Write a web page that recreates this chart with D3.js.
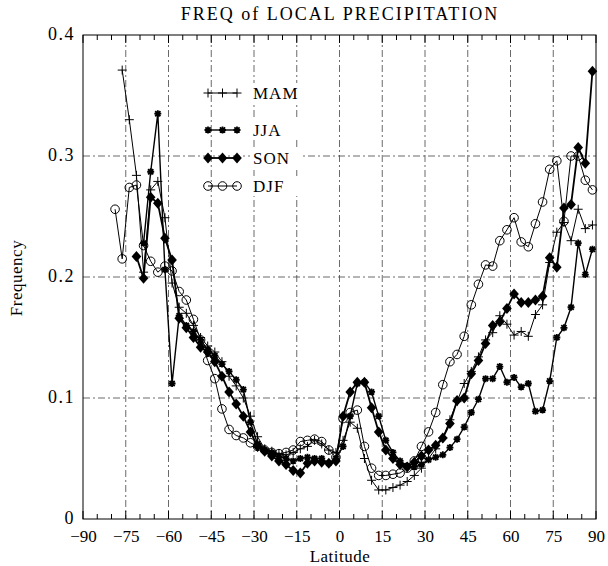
<!DOCTYPE html>
<html>
<head>
<meta charset="utf-8">
<script src="https://cdn.jsdelivr.net/npm/d3@7"></script>
<style>
  body { margin: 0; background: #fff; }
  text { font-family: "Liberation Serif", "DejaVu Serif", serif; fill: #000; }
</style>
</head>
<body>
<svg width="608" height="566"></svg>
<script>
// latitude bands (2.5 deg grid)
const lats = [-78.75, -76.25, -73.75, -71.25, -68.75, -66.25, -63.75, -61.25, -58.75, -56.25,
  -53.75, -51.25, -48.75, -46.25, -43.75, -41.25, -38.75, -36.25, -33.75, -31.25,
  -28.75, -26.25, -23.75, -21.25, -18.75, -16.25, -13.75, -11.25, -8.75, -6.25,
  -3.75, -1.25, 1.25, 3.75, 6.25, 8.75, 11.25, 13.75, 16.25, 18.75,
  21.25, 23.75, 26.25, 28.75, 31.25, 33.75, 36.25, 38.75, 41.25, 43.75,
  46.25, 48.75, 51.25, 53.75, 56.25, 58.75, 61.25, 63.75, 66.25, 68.75,
  71.25, 73.75, 76.25, 78.75, 81.25, 83.75, 86.25, 88.75]

const mam = [null, .371, .330, .284, .204, .272, .279, .249, .195, .175,
  .170, .160, .150, .143, .138, .130, .118, .110, .100, .085,
  .068, .058, .056, .054, .053, .055, .058, .060, .065, .062,
  .057, .055, .065, .080, .075, .050, .032, .024, .024, .026,
  .028, .031, .036, .042, .050, .058, .067, .082, .097, .112,
  .122, .134, .148, .154, .168, .161, .152, .155, .151, .169,
  .177, .212, .237, .245, .230, .256, .240, .243]

const jja = [null, null, null, null, .228, .287, .335, .206, .112, .168,
  .160, .155, .148, .140, .135, .128, .122, .115, .107, .080,
  .062, .057, .055, .052, .050, .048, .050, .051, .050, .050,
  .046, .050, .060, .085, .112, .113, .105, .085, .065, .055,
  .048, .044, .043, .045, .049, .051, .053, .059, .066, .076,
  .088, .099, .116, .116, .126, .113, .117, .109, .112, .089,
  .090, .114, .150, .158, .175, .228, .202, .223]

const son = [null, null, null, .217, .199, .266, .261, .232, .214, .166,
  .158, .150, .142, .138, .130, .118, .105, .095, .085, .072,
  .060, .056, .052, .048, .045, .040, .038, .046, .048, .047,
  .046, .048, .085, .105, .113, .113, .092, .072, .057, .050,
  .045, .043, .047, .052, .057, .061, .067, .079, .098, .100,
  .120, .131, .145, .160, .163, .174, .186, .179, .179, .181,
  .184, .216, .208, .257, .260, .307, .294, .370]

const djf = [.256, .215, .274, .276, .226, .213, .204, .209, .205, .188,
  .181, .165, .148, .131, .116, .091, .074, .069, .067, .063,
  .060, .057, .055, .054, .055, .057, .064, .065, .066, .064,
  .057, .051, .083, .088, .090, .060, .042, .036, .036, .037,
  .038, .042, .048, .060, .072, .088, .111, .130, .136, .151,
  .177, .194, .210, .209, .230, .239, .249, .229, .225, .244,
  .262, .289, .296, .246, .300, .300, .280, .272]

const seasons = ["MAM", "JJA", "SON", "DJF"]
const xTicks = [-90, -75, -60, -45, -30, -15, 0, 15, 30, 45, 60, 75, 90]
const yTicks = [0, 0.1, 0.2, 0.3, 0.4]

const pLeft = 83, pRight = 596, pTop = 35, pBottom = 519

const svg = d3.select("svg")
const x = d3.scaleLinear().domain([-90, 90]).range([pLeft, pRight])
const y = d3.scaleLinear().domain([0, 0.4]).range([pBottom, pTop])

// grid
const grid = svg.append("g")
  .attr("stroke", "#444").attr("stroke-width", 0.8)
  .attr("stroke-dasharray", "7,3,2,3")
grid.selectAll(".vg").data(xTicks.slice(1, -1)).enter().append("line")
  .attr("x1", d => x(d)).attr("x2", d => x(d))
  .attr("y1", pTop).attr("y2", pBottom)
grid.selectAll(".hg").data(yTicks.slice(1, -1)).enter().append("line")
  .attr("x1", pLeft).attr("x2", pRight)
  .attr("y1", d => y(d)).attr("y2", d => y(d))

// frame
svg.append("rect")
  .attr("x", pLeft).attr("y", pTop)
  .attr("width", pRight - pLeft).attr("height", pBottom - pTop)
  .attr("fill", "none").attr("stroke", "#000").attr("stroke-width", 1)

// minor ticks every 5 deg, top and bottom
const minor = d3.range(-90, 91, 5)
svg.append("g").selectAll("line").data(minor).enter().append("line")
  .attr("x1", d => x(d)).attr("x2", d => x(d))
  .attr("y1", pBottom).attr("y2", d => pBottom - (d % 15 === 0 ? 8 : 5))
  .attr("stroke", "#000")
svg.append("g").selectAll("line").data(minor).enter().append("line")
  .attr("x1", d => x(d)).attr("x2", d => x(d))
  .attr("y1", pTop).attr("y2", d => pTop + (d % 15 === 0 ? 8 : 5))
  .attr("stroke", "#000")

// axis labels
const xAxis = d3.axisBottom(x).tickValues(xTicks).tickSize(0).tickPadding(11)
  .tickFormat(d => d === 0 ? "0" : d3.format("d")(d))
const gx = svg.append("g").attr("transform", `translate(0,${pBottom})`).call(xAxis)
gx.select(".domain").remove()
gx.selectAll("text").attr("font-size", 17).attr("font-family", "Liberation Serif")

const yAxis = d3.axisLeft(y).tickValues(yTicks).tickSize(0).tickPadding(8)
  .tickFormat(d => d === 0 ? "0" : d3.format(".1f")(d))
const gy = svg.append("g").attr("transform", `translate(${pLeft},0)`).call(yAxis)
gy.select(".domain").remove()
gy.selectAll("text").attr("font-size", 18).attr("letter-spacing", 1.5)
  .attr("font-family", "Liberation Serif").attr("dy", "0.25em")

svg.append("text").attr("x", 340).attr("y", 20).attr("text-anchor", "middle")
  .attr("font-size", 18).attr("letter-spacing", 2).text("FREQ of LOCAL PRECIPITATION")
svg.append("text").attr("x", 340).attr("y", 562).attr("text-anchor", "middle")
  .attr("font-size", 17).attr("letter-spacing", 0.5).text("Latitude")
svg.append("text").attr("transform", "translate(22,278) rotate(-90)")
  .attr("text-anchor", "middle").attr("font-size", 17).attr("letter-spacing", 0.5).text("Frequency")

// markers
const markers = {
  MAM: g => g.append("path").attr("d", "M-4.5,0H4.5M0,-4.5V4.5").attr("stroke", "#000").attr("stroke-width", 1),
  JJA: g => g.append("path").attr("d", "M-3.5,0H3.5M0,-3.5V3.5M-2.6,-2.6L2.6,2.6M-2.6,2.6L2.6,-2.6")
    .attr("stroke", "#000").attr("stroke-width", 1.8),
  SON: g => g.append("path").attr("d", "M0,-5.5L4.8,0L0,5.5L-4.8,0Z").attr("fill", "#000"),
  DJF: g => g.append("circle").attr("r", 4.3).attr("fill", "none").attr("stroke", "#000").attr("stroke-width", 1)
}
const widths = { MAM: 1, JJA: 1.4, SON: 1.8, DJF: 1 }
const values = { MAM: mam, JJA: jja, SON: son, DJF: djf }

const line = d3.line()
  .defined(d => d[1] != null)
  .x(d => x(d[0])).y(d => y(d[1]))

seasons.forEach(s => {
  const pts = lats.map((l, i) => [l, values[s][i]])
  svg.append("path").datum(pts)
    .attr("d", line).attr("fill", "none")
    .attr("stroke", "#000").attr("stroke-width", widths[s])
  svg.append("g").selectAll("g")
    .data(pts.filter(d => d[1] != null)).enter().append("g")
    .attr("transform", d => `translate(${x(d[0])},${y(d[1])})`)
    .each(function() { markers[s](d3.select(this)) })
})

// legend
const legY = [93, 130, 158, 186]
const leg = svg.append("g")
seasons.forEach((s, i) => {
  leg.append("rect").attr("x", 250).attr("y", legY[i] - 10).attr("width", 50).attr("height", 20).attr("fill", "#fff")
  leg.append("line").attr("x1", 208).attr("x2", 237).attr("y1", legY[i]).attr("y2", legY[i])
    .attr("stroke", "#000").attr("stroke-width", widths[s])
  ;[208, 222.5, 237].forEach(px => {
    markers[s](leg.append("g").attr("transform", `translate(${px},${legY[i]})`))
  })
  leg.append("text").attr("x", 253).attr("y", legY[i] + 6).attr("font-size", 17)
    .attr("letter-spacing", 1).text(s)
})
</script>
</body>
</html>
